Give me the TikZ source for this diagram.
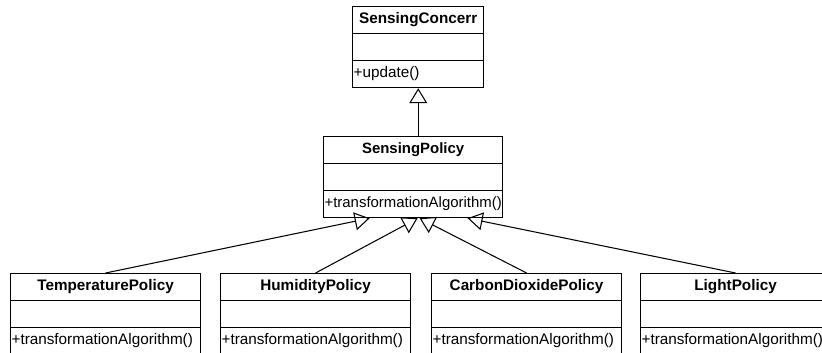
\documentclass[tikz,border=0pt]{standalone}
\usepackage{fontspec}
\setmainfont{Liberation Sans}
\usetikzlibrary{shapes.multipart,arrows.meta}
\tikzset{
 umlclass/.style={draw,line width=0.6pt,rectangle split,rectangle split parts=3,anchor=north west,
  inner xsep=0.6pt,inner ysep=2.2pt,font=\fontsize{8.7}{10.4}\selectfont,text width=#1},
 umlclass/.default=107pt,
 inherit/.style={line width=0.6pt,-{Triangle[open,length=8.5pt,width=10.2pt]}}
}
\begin{document}
\begin{tikzpicture}[x=0.02cm,y=-0.02cm]
 \useasboundingbox (0,0) rectangle (822,352);
 \clip (0,0) rectangle (822,352);
 \node[umlclass=73.6pt] (sc) at (352,6) {{\centering\bfseries\strut SensingConcerr\par}\nodepart{two}\strut\nodepart{three}\strut+update()};
 \node[umlclass=100.8pt,font=\fontsize{8.5}{10.4}\selectfont] (sp) at (323,136) {{\centering\bfseries\strut SensingPolicy\par}\nodepart{two}\strut\nodepart{three}\strut+transformationAlgorithm()};
 \node[umlclass] (tp) at (10,273) {{\centering\bfseries\strut TemperaturePolicy\par}\nodepart{two}\strut\nodepart{three}\strut+transformationAlgorithm()};
 \node[umlclass] (hp) at (220,273) {{\centering\bfseries\strut HumidityPolicy\par}\nodepart{two}\strut\nodepart{three}\strut+transformationAlgorithm()};
 \node[umlclass] (cp) at (431,273) {{\centering\bfseries\strut CarbonDioxidePolicy\par}\nodepart{two}\strut\nodepart{three}\strut+transformationAlgorithm()};
 \node[umlclass] (lp) at (640,273) {{\centering\bfseries\strut LightPolicy\par}\nodepart{two}\strut\nodepart{three}\strut+transformationAlgorithm()};
 \draw[inherit] (sp.north -| sc.south) -- (sc.south);
 \draw[inherit] (tp.north) -- ([xshift=-0.87cm]sp.south);
 \draw[inherit] (hp.north) -- ([xshift=0.09cm]sp.south);
 \draw[inherit] (cp.north) -- ([xshift=0.13cm]sp.south);
 \draw[inherit] (lp.north) -- ([xshift=1.09cm]sp.south);
\end{tikzpicture}
\end{document}
